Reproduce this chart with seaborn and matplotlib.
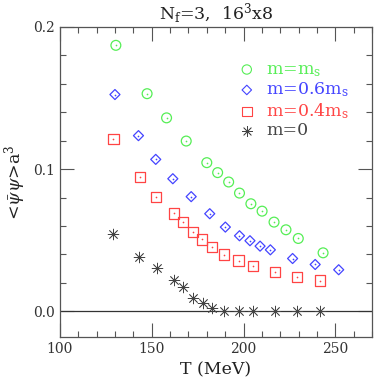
import numpy as np
import pandas as pd
import matplotlib
matplotlib.use("Agg")
import matplotlib.pyplot as plt
import seaborn as sns
from matplotlib.ticker import MultipleLocator

# datos
T_ms = [130.5, 147.5, 158.1, 168.8, 180.0, 185.9, 191.9, 197.8, 204.0, 210.1, 216.6, 223.1, 229.8, 243.3]
pbp_ms = [0.187, 0.153, 0.136, 0.1197, 0.1045, 0.0975, 0.0909, 0.0831, 0.0756, 0.0704, 0.0627, 0.0573, 0.0512, 0.0411]

T_06 = [130.0, 142.8, 152.2, 161.5, 171.5, 181.6, 190.1, 197.8, 203.5, 209.0, 214.6, 226.7, 239.0, 251.8]
pbp_06 = [0.1524, 0.1235, 0.1068, 0.0932, 0.0806, 0.0686, 0.0592, 0.0531, 0.0496, 0.0458, 0.0432, 0.0371, 0.0329, 0.0292]

T_04 = [129.2, 143.5, 152.5, 162.1, 167.2, 172.4, 177.6, 182.9, 189.4, 197.3, 205.3, 217.0, 228.9, 241.5]
pbp_04 = [0.1209, 0.0944, 0.0806, 0.0688, 0.0630, 0.0559, 0.0505, 0.0453, 0.0399, 0.0357, 0.0320, 0.0275, 0.0242, 0.0216]

T_0 = [129.2, 143.3, 152.7, 162.3, 167.3, 172.6, 177.8, 183.0, 189.5, 197.3, 205.3, 217.0, 228.9, 241.4]
pbp_0 = [0.054, 0.0383, 0.0303, 0.0223, 0.0172, 0.0096, 0.0059, 0.0024, 0.0, 0.0, 0.0, 0.0, 0.0, 0.0]

labels = [r"m=m$_\mathrm{s}$", r"m=0.6m$_\mathrm{s}$", r"m=0.4m$_\mathrm{s}$", "m=0"]
colores = ["#55ee55", "#4444ff", "#ff4444", "#444444"]
marcadores = ["o", "D", "s", (8, 2, 0)]
tamanos = [50, 26, 54, 60]

series = [(T_ms, pbp_ms), (T_06, pbp_06), (T_04, pbp_04), (T_0, pbp_0)]

sns.set_style("ticks")
plt.rcParams["font.family"] = ["DejaVu Serif"]
plt.rcParams["mathtext.fontset"] = "dejavuserif"

fig = plt.figure(figsize=(3.74, 3.89), dpi=100)
ax = fig.add_axes([0.16, 0.134, 0.835, 0.797])

ax.axhline(0, color="#333333", lw=0.9, zorder=1)

handles = []
for (T, p), lab, c, m, s in zip(series, labels, colores, marcadores, tamanos):
    df = pd.DataFrame({"T": T, "pbp": p})
    if isinstance(m, tuple):
        sns.scatterplot(data=df, x="T", y="pbp", marker=m, s=s, color=c,
                        linewidth=0.55, ax=ax, zorder=3)
    else:
        sns.scatterplot(data=df, x="T", y="pbp", marker=m, s=s, facecolor="none",
                        edgecolor=c, linewidth=0.9, ax=ax, zorder=3)
        # puntito central
        sns.scatterplot(data=df, x="T", y="pbp", marker="o", s=1.5, color=c,
                        linewidth=0, ax=ax, zorder=4)
    h = ax.scatter([], [], marker=m, s=s * 0.9,
                   facecolor=c if isinstance(m, tuple) else "none",
                   edgecolor=c, linewidth=0.55 if isinstance(m, tuple) else 0.8)
    handles.append(h)

leg = ax.legend(handles, labels, loc="upper right", bbox_to_anchor=(0.975, 0.94),
                frameon=False, fontsize=12.5, handletextpad=0.6, labelspacing=0.1,
                handlelength=1.0)
for txt, c in zip(leg.get_texts(), colores):
    txt.set_color(c)

ax.set_xlim(100, 270)
ax.set_ylim(-0.018, 0.2)
ax.xaxis.set_major_locator(MultipleLocator(50))
ax.xaxis.set_minor_locator(MultipleLocator(10))
ax.yaxis.set_major_locator(MultipleLocator(0.1))
ax.yaxis.set_minor_locator(MultipleLocator(0.02))
ax.tick_params(which="both", direction="in", top=True, right=True, colors="#555555",
               labelcolor="#333333", labelsize=10)
ax.tick_params(which="major", length=10, width=0.8)
ax.tick_params(which="minor", length=4, width=0.8)
for sp in ax.spines.values():
    sp.set_color("#555555")
    sp.set_linewidth(0.9)

ax.set_xlabel("T (MeV)", fontsize=12.5, color="#222222")
ax.set_ylabel(r"<$\bar{\psi}\psi$>a$^3$", fontsize=12.5, color="#222222")
ax.set_title(r"N$_\mathrm{f}$=3,  16$^3$x8", fontsize=12.5, color="#222222", pad=5)

fig.savefig("out.png", dpi=100)
